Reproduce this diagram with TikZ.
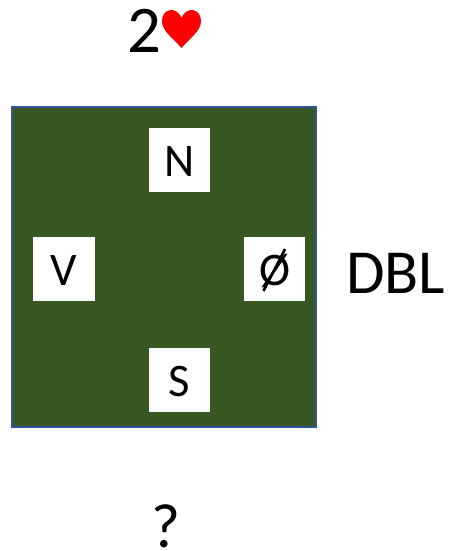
\documentclass[tikz,border=0pt]{standalone}
\usepackage{fontspec}
\setmainfont{Carlito}
\definecolor{board}{HTML}{385723}
\definecolor{edgeblue}{HTML}{2F5597}
\tikzset{seat/.style={fill=white,inner sep=0pt},
seatlbl/.style={inner sep=0pt,anchor=base,font=\fontsize{35}{35}\selectfont},
lbl/.style={inner sep=0pt,anchor=base,text=black,font=\fontsize{47}{47}\selectfont}}
\begin{document}
\begin{tikzpicture}[x=1pt,y=-1pt,scale=0.75]
\useasboundingbox (0,0) rectangle (451,551);
\fill[white] (0,0) rectangle (451,551);
\node[draw=edgeblue,fill=board,line width=1.5pt,minimum width=228pt,minimum height=240pt,inner sep=0pt,anchor=north west] (board) at (10.5,106) {};
\node[seat,minimum width=45.75pt,minimum height=48pt] (n) at (179.5,160) {};
\node[seat,minimum width=46.5pt,minimum height=48pt] (v) at (64,269) {};
\node[seat,minimum width=46pt,minimum height=48pt] (e) at (274.5,269) {};
\node[seat,minimum width=45.75pt,minimum height=48pt] (s) at (179.5,380) {};
\node[seatlbl] (nt) at (179.5,176) {N};
\node[seatlbl] (vt) at (64,285) {V};
\node[seatlbl] (et) at (274.5,285) {Ø};
\draw[line width=1.9pt] (263.5,291) -- (285,249);
\node[seatlbl] (st) at (179.5,396) {S};
\node[lbl] (dbl) at (395.5,293) {DBL};
\node[lbl] (q) at (166,547) {?};
\node[lbl,font=\fontsize{50}{50}\selectfont] (two) at (144,52) {2};
\fill[red] (181.5,48) .. controls (172,37) and (162,31) .. (162,21) .. controls (162,8) and (177,6) .. (181.5,18) .. controls (186,6) and (201,8) .. (201,21) .. controls (201,31) and (191,37) .. (181.5,48) -- cycle;
\end{tikzpicture}
\end{document}
